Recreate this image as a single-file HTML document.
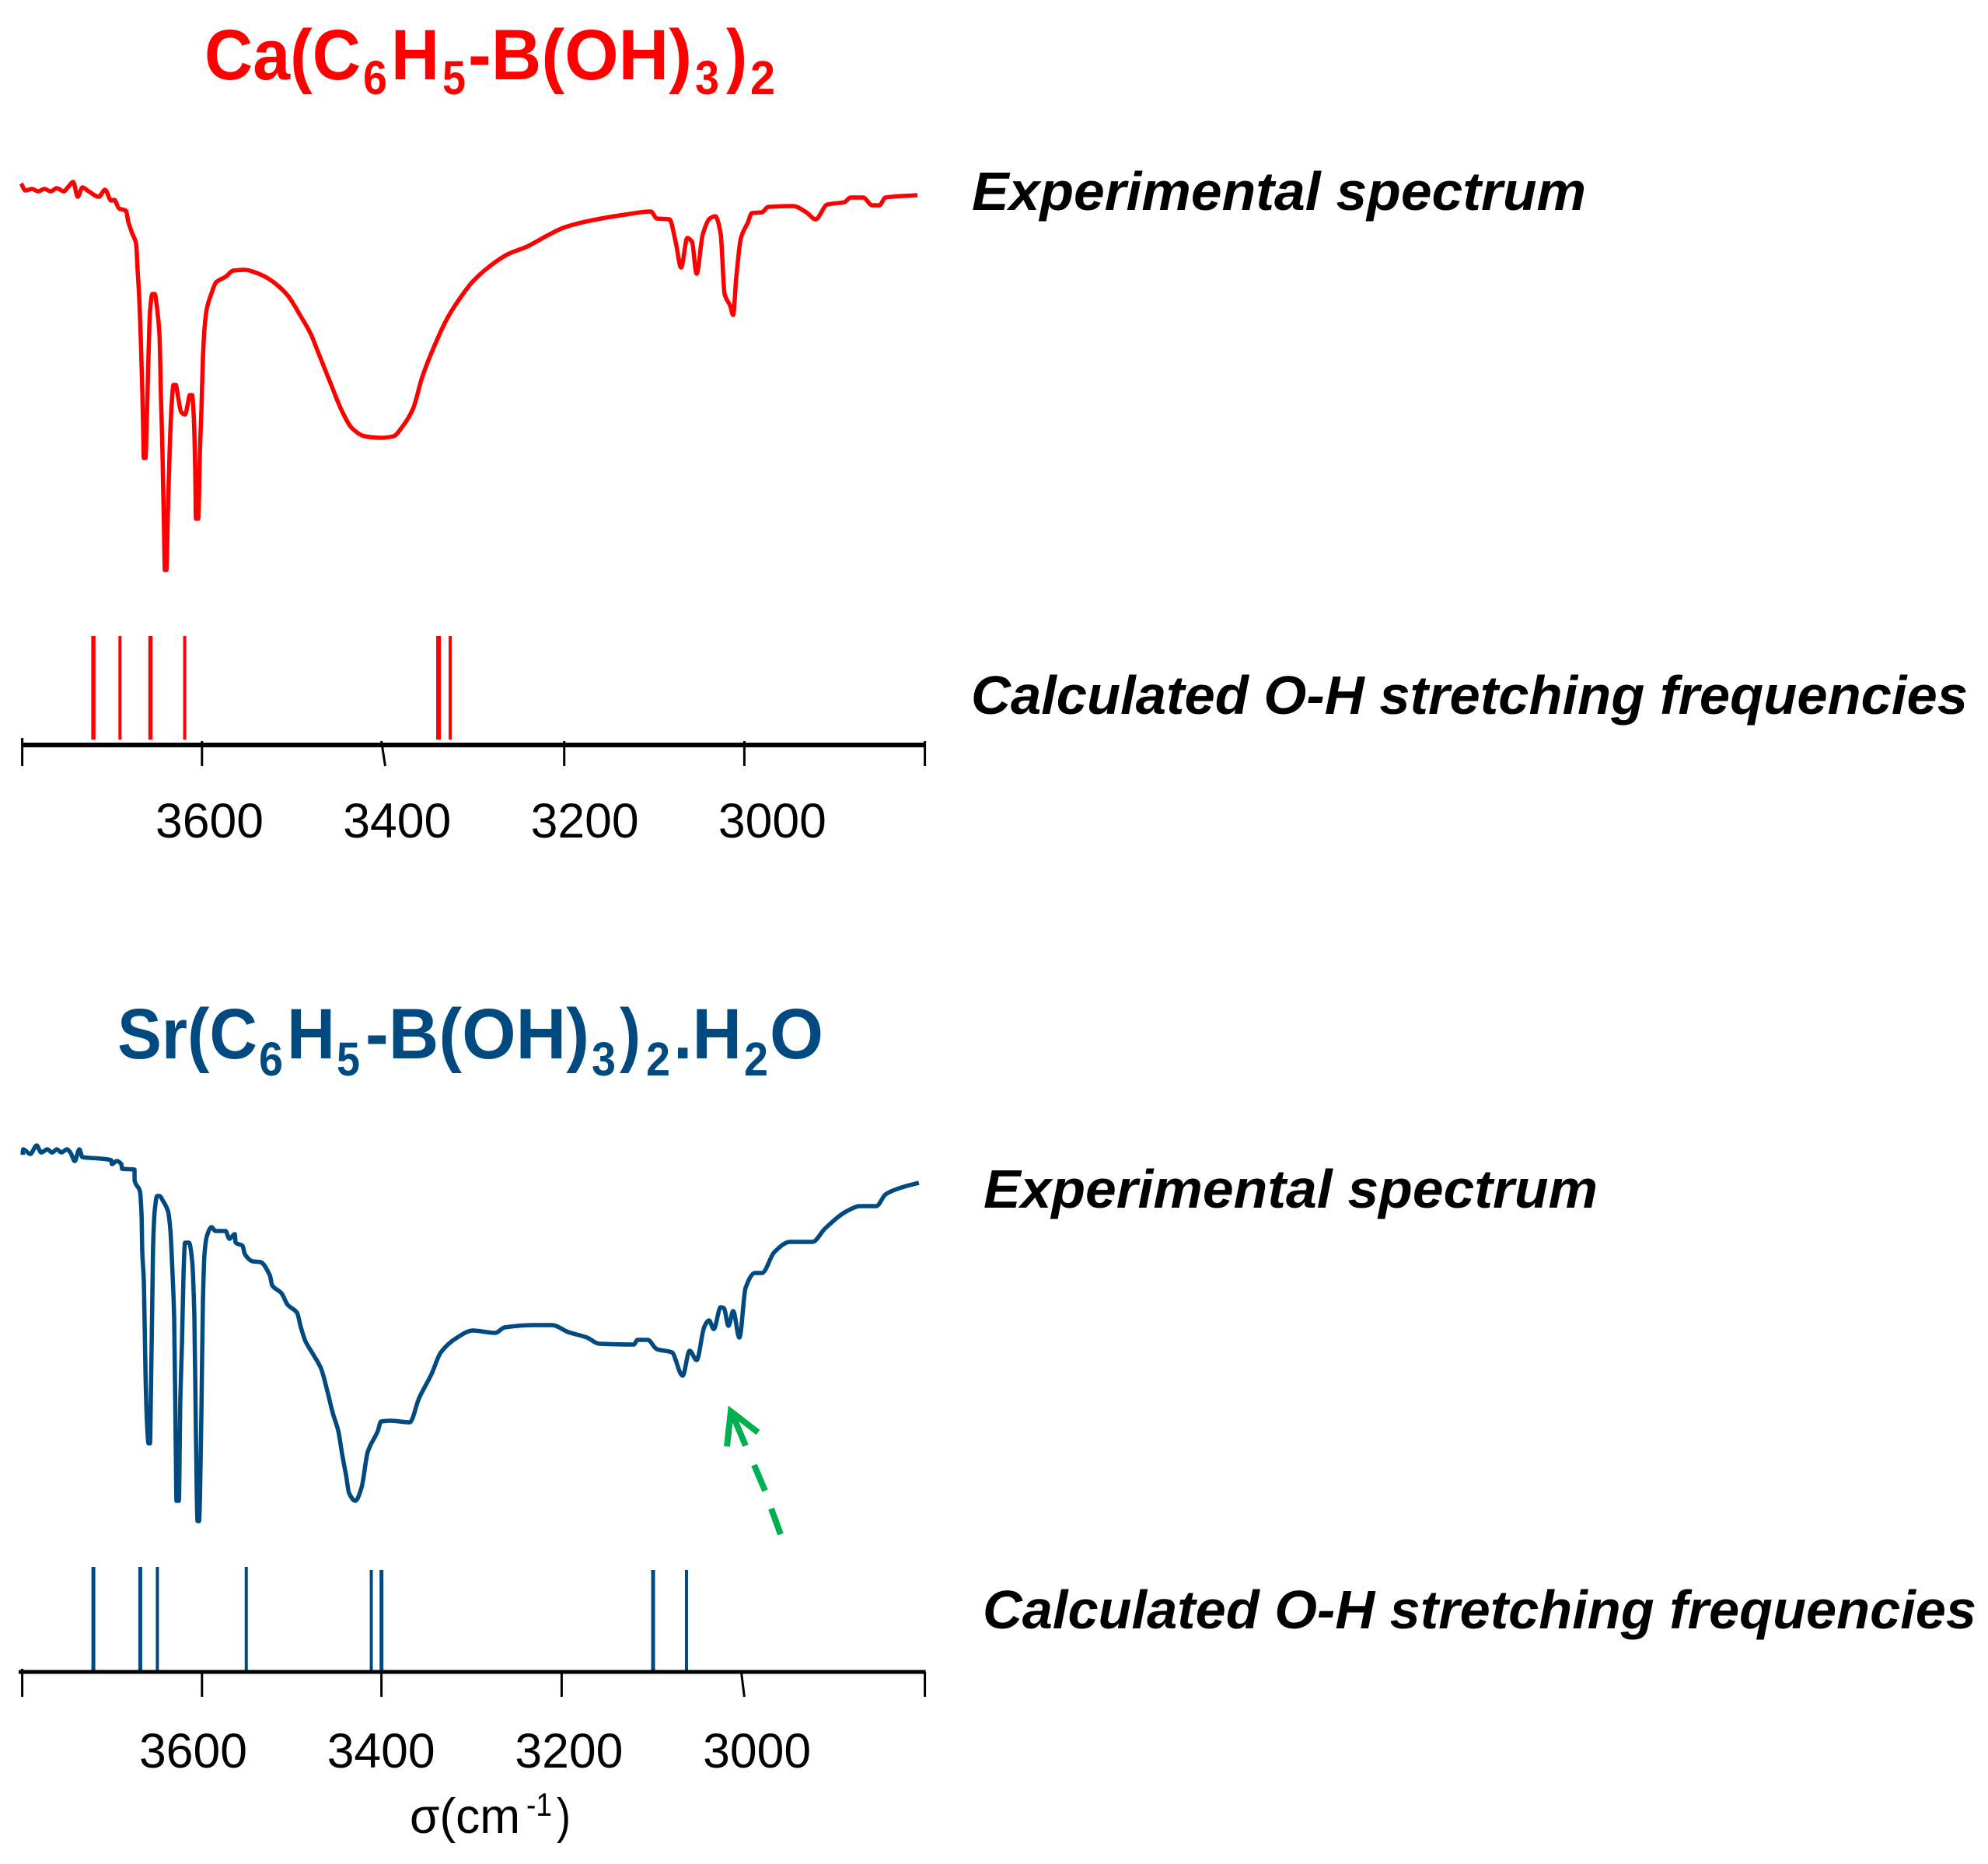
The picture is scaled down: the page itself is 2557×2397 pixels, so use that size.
<!DOCTYPE html>
<html>
<head>
<meta charset="utf-8">
<title>O-H stretching spectra</title>
<style>
html,body{margin:0;padding:0;background:#fff;}
svg{display:block;}
text{font-family:"Liberation Sans",sans-serif;}
.title{font-weight:bold;font-size:92px;}
.sub{font-size:61px;font-weight:bold;}
.note{font-weight:bold;font-style:italic;font-size:70px;fill:#000;}
.tick-label{font-size:63px;fill:#000;}
</style>
</head>
<body>
<svg id="figure" xmlns="http://www.w3.org/2000/svg" width="2557" height="2397" viewBox="0 0 2557 2397">
<rect x="0" y="0" width="2557" height="2397" fill="#fff"/>

<text class="title" fill="#ff0000" y="102"><tspan x="263" textLength="201" lengthAdjust="spacingAndGlyphs">Ca(C</tspan><tspan class="sub" x="467" y="121" textLength="31" lengthAdjust="spacingAndGlyphs">6</tspan><tspan x="503" y="102" textLength="62" lengthAdjust="spacingAndGlyphs">H</tspan><tspan class="sub" x="569" y="121" textLength="30" lengthAdjust="spacingAndGlyphs">5</tspan><tspan x="602" y="102" textLength="288" lengthAdjust="spacingAndGlyphs">-B(OH)</tspan><tspan class="sub" x="894" y="121" textLength="31" lengthAdjust="spacingAndGlyphs">3</tspan><tspan x="934" y="102" textLength="27" lengthAdjust="spacingAndGlyphs">)</tspan><tspan class="sub" x="965" y="121" textLength="32" lengthAdjust="spacingAndGlyphs">2</tspan></text>

<text class="title" fill="#004a80" y="1361"><tspan x="151" textLength="180" lengthAdjust="spacingAndGlyphs">Sr(C</tspan><tspan class="sub" x="333" y="1383" textLength="31" lengthAdjust="spacingAndGlyphs">6</tspan><tspan x="369" y="1361" textLength="62" lengthAdjust="spacingAndGlyphs">H</tspan><tspan class="sub" x="433" y="1383" textLength="30" lengthAdjust="spacingAndGlyphs">5</tspan><tspan x="470" y="1361" textLength="288" lengthAdjust="spacingAndGlyphs">-B(OH)</tspan><tspan class="sub" x="761" y="1383" textLength="31" lengthAdjust="spacingAndGlyphs">3</tspan><tspan x="797" y="1361" textLength="27" lengthAdjust="spacingAndGlyphs">)</tspan><tspan class="sub" x="831" y="1383" textLength="31" lengthAdjust="spacingAndGlyphs">2</tspan><tspan x="866" y="1361" textLength="88" lengthAdjust="spacingAndGlyphs">.H</tspan><tspan class="sub" x="957" y="1383" textLength="31" lengthAdjust="spacingAndGlyphs">2</tspan><tspan x="990" y="1361" textLength="69" lengthAdjust="spacingAndGlyphs">O</tspan></text>

<text class="note" x="1250" y="270" textLength="790" lengthAdjust="spacingAndGlyphs">Experimental spectrum</text>
<text class="note" x="1249" y="918" textLength="1282" lengthAdjust="spacingAndGlyphs">Calculated O-H stretching frequencies</text>
<text class="note" x="1265" y="1553" textLength="790" lengthAdjust="spacingAndGlyphs">Experimental spectrum</text>
<text class="note" x="1264" y="2094" textLength="1278" lengthAdjust="spacingAndGlyphs">Calculated O-H stretching frequencies</text>

<text class="tick-label" y="2357"><tspan x="527" textLength="142" lengthAdjust="spacingAndGlyphs">σ(cm</tspan><tspan x="677" y="2335" font-size="42" textLength="33" lengthAdjust="spacingAndGlyphs">-1</tspan><tspan x="716" y="2357" textLength="18" lengthAdjust="spacingAndGlyphs">)</tspan></text>

<g fill="none" stroke="#00b050" stroke-width="8">
<line x1="1004" y1="1973" x2="992" y2="1940"/>
<line x1="984" y1="1917" x2="970" y2="1884"/>
<line x1="959" y1="1859" x2="943" y2="1821"/>
<polyline points="935,1860 940,1815 975,1842"/>
</g>
</svg>

<script>
// Wavenumber axis values
const tickValues = [3800, 3600, 3400, 3200, 3000, 2800];
const tickLabels = ["3600", "3400", "3200", "3000"];

// Ca compound experimental spectrum
const caWavenumber = [3801.3,3796.2,3789.3,3782.4,3775.5,3768.6,3761.7,3754,3748.8,3743.6,3738.5,3733.3,3726.4,3715.2,3708.3,3701.4,3698,3692.8,3685.1,3682.5,3678.2,3673.9,3672.2,3670.4,3668.7,3667,3666.1,3665.3,3663.5,3661.8,3660.1,3658.4,3655.8,3653.2,3650.6,3648,3646.3,3644.6,3642.9,3642,3640.3,3638.6,3636.8,3634.3,3632.5,3629.9,3627.4,3623.9,3619.6,3616.2,3614.4,3611.9,3610.1,3608.4,3607.6,3605,3603.2,3601.5,3599.8,3598.1,3595.5,3590.3,3585.2,3574.8,3566.2,3553.3,3540.4,3529.2,3517.1,3505.9,3491.3,3480.1,3473.2,3459.4,3444.8,3434.4,3420.7,3402.6,3388.8,3378.4,3367.2,3356.9,3343.1,3328.5,3314.7,3300.9,3282.8,3262.2,3240.6,3220,3198.4,3167.4,3132.1,3103.7,3096.8,3083,3076.1,3070.1,3063.2,3058,3052.9,3046,3038.2,3032.2,3026.2,3021.9,3015.8,3012.4,3009,3003.8,2996,2991.7,2980.5,2973.6,2946.1,2931.4,2921.1,2908.2,2889.2,2882.3,2868.6,2858.2,2850.5,2843.6,2808.3];
const caIntensity = [76.4,75.5,75.7,75.4,75.7,75.4,75.8,75.4,76,76.6,74.7,75.9,75.4,74.7,75.6,74.2,74.3,73.2,72.9,71.5,70,68.7,65.3,61.7,56.7,50,45,41.1,41.1,47,54.3,60,62.2,62.2,60.3,57,49,41.7,31.7,26.7,26.7,34.3,41.7,48.3,50.5,50.5,49,47,46.7,48.3,49.2,49.2,46.7,40,33.3,33.3,41.7,47.3,54,57.7,60.3,62.3,63.7,64.4,65.2,65.3,64.9,64.3,63.3,62,59.3,57,55,51,46.9,44.9,43.9,43.7,43.9,45.2,47.4,51.5,55.6,59.2,61.7,63.8,65.7,67.3,68.3,69.6,70.8,71.7,72.4,72.8,71.9,71.8,68.9,65.6,69.4,68.9,64.8,69.9,71.9,72.2,69.9,62.2,60.7,59.5,64.3,69.4,71.4,72.6,72.7,73.4,73.5,72.7,71.8,73.7,74,74.6,74.6,73.6,73.6,74.6,74.9];
const caCalculated = [3721.2,3691.7,3657.9,3620,3338.8,3325.9];

// Sr compound experimental spectrum
const srWavenumber = [3799.6,3799,3791,3784.1,3779,3772.1,3766.9,3761.7,3756.6,3750.5,3746.2,3741.9,3736.7,3733.3,3712.6,3701.4,3700.6,3695.4,3690.2,3689.4,3675.6,3675.5,3669.6,3667.8,3667,3665.3,3663.5,3661.8,3660.1,3658.4,3657.5,3655.8,3654.9,3653.2,3650.6,3648,3643.7,3638.6,3636,3633.4,3631.7,3629.9,3629.1,3626.5,3624.8,3623.1,3621.3,3619.6,3615.3,3611.9,3609.3,3607.6,3605.8,3604.1,3601.5,3599.8,3598.1,3595.5,3590.3,3586,3574.8,3570.5,3564.5,3563.6,3555.9,3553.3,3544.7,3536.1,3525.7,3523.1,3512.8,3505.9,3495.6,3491.3,3486.1,3477.5,3468.9,3461.1,3456,3449.9,3445.6,3441.3,3437.9,3431,3424.1,3417.2,3406,3402.6,3392.2,3370.7,3360.4,3346.6,3336.2,3318.2,3300.9,3276,3265.6,3233.7,3213.1,3195,3174.3,3160.6,3122.6,3118.3,3107.1,3096.8,3080.4,3068.4,3060.6,3052.9,3044.3,3039.1,3033.9,3026.2,3022.7,3017.6,3012.4,3005.5,2998.6,2988.3,2980.5,2966.7,2949.5,2924.5,2910.8,2885.8,2872,2853.9,2843.6,2833.2,2822.9,2806.6];
const srIntensity = [51.5,52.2,51.6,52.7,51.8,52.2,51.8,52.2,51.8,52.2,51.7,50.7,52.2,51.2,51,50.8,50.3,50.7,50.3,49.7,49.6,48.2,46.8,43.7,39,35.3,23.7,17,14.4,14.4,20.3,33.7,40.3,44.3,46.2,46.2,45.5,44.3,42,36,30.7,13.7,7,7,20.3,27,36.3,40.2,40.2,38,30.7,15.7,4.4,4.4,18.7,32.7,38.7,41,42.2,41.7,41.7,40.7,41.3,40.2,39.8,38.7,37.8,37.7,36,34.7,33.7,32.2,31.2,29.3,27.5,25.8,24,20.7,18.3,16,13,10.3,8,7,8.7,13.3,16,17.2,17.3,17.1,20.2,23.3,26.1,28,28.9,28.6,29.3,29.6,29.6,28.7,28,27.2,27.1,27.7,27.7,26.5,26.1,23.1,26.3,25.1,29.4,30.2,29.1,31.9,31.8,29.5,31.4,28,34.4,36.3,36.3,39,40.3,40.3,42,44.3,44.9,44.9,46.4,47,47.4,47.9];
const srCalculated = [3721.2,3669.2,3650.3,3551.8,3413.3,3402,3101.1,3064.1];
const srCalculatedHeight = [1,1,1,1,0.97,0.97,0.97,0.97];

const SVG_NS = "http://www.w3.org/2000/svg";
const svg = document.getElementById("figure");

function xScale(sigma) { return 28.6 + (3800 - sigma) * 1.161; }

// Monotone cubic curve through the scaled points (no overshoot at the peaks)
function monotonePath(xs, ys) {
  const n = xs.length;
  const slopes = [];
  for (let i = 0; i < n - 1; i++) {
    slopes.push((ys[i + 1] - ys[i]) / Math.max(xs[i + 1] - xs[i], 0.01));
  }
  const tangents = [slopes[0]];
  for (let i = 1; i < n - 1; i++) {
    const a = slopes[i - 1], b = slopes[i];
    tangents.push(a * b <= 0 ? 0 : 2 * a * b / (a + b));
  }
  tangents.push(slopes[n - 2]);
  let d = "M" + xs[0].toFixed(1) + " " + ys[0].toFixed(1);
  for (let i = 0; i < n - 1; i++) {
    const h = (xs[i + 1] - xs[i]) / 3;
    d += " C" + (xs[i] + h).toFixed(1) + " " + (ys[i] + tangents[i] * h).toFixed(1) +
         " " + (xs[i + 1] - h).toFixed(1) + " " + (ys[i + 1] - tangents[i + 1] * h).toFixed(1) +
         " " + xs[i + 1].toFixed(1) + " " + ys[i + 1].toFixed(1);
  }
  return d;
}

function drawSpectrum(wavenumbers, intensities, base, color, width, name) {
  const xs = wavenumbers.map(xScale);
  const ys = intensities.map(function (v) { return base - v * 10; });
  const path = document.createElementNS(SVG_NS, "path");
  path.setAttribute("d", monotonePath(xs, ys));
  path.setAttribute("fill", "none");
  path.setAttribute("stroke", color);
  path.setAttribute("stroke-width", width);
  path.setAttribute("stroke-linejoin", "round");
  
  
  svg.appendChild(path);
}

function drawCalculated(values, heights, top, bottom, color, widths, name) {
  values.forEach(function (v, i) {
    const line = document.createElementNS(SVG_NS, "line");
    const x = xScale(v);
    line.setAttribute("x1", x);
    line.setAttribute("x2", x);
    line.setAttribute("y1", bottom - (bottom - top) * heights[i]);
    line.setAttribute("y2", bottom);
    line.setAttribute("stroke", color);
    line.setAttribute("stroke-width", widths[i % widths.length]);
    
    
    svg.appendChild(line);
  });
}

function drawAxis(axisY, axisW, tickTop, tickBottom, x0, slantIndex, slant, shift, name) {
  const axis = document.createElementNS(SVG_NS, "line");
  axis.setAttribute("x1", x0);
  axis.setAttribute("x2", xScale(tickValues[tickValues.length - 1]) + 1);
  axis.setAttribute("y1", axisY);
  axis.setAttribute("y2", axisY);
  axis.setAttribute("stroke", "#000");
  axis.setAttribute("stroke-width", axisW);
  
  
  svg.appendChild(axis);
  tickValues.forEach(function (v, i) {
    const tick = document.createElementNS(SVG_NS, "line");
    const x = xScale(v) + shift[i];
    const s = i === slantIndex ? slant : 0;
    tick.setAttribute("x1", x - s);
    tick.setAttribute("x2", x + s);
    tick.setAttribute("y1", i === 0 ? tickTop - 4 : tickTop);
    tick.setAttribute("y2", tickBottom);
    tick.setAttribute("stroke", "#000");
    tick.setAttribute("stroke-width", 3);
    
    
    svg.appendChild(tick);
  });
}

function drawTickLabels(start, step, baseline, name) {
  tickLabels.forEach(function (label, i) {
    const t = document.createElementNS(SVG_NS, "text");
    t.setAttribute("class", "tick-label");
    t.setAttribute("x", start + step * i);
    t.setAttribute("y", baseline);
    t.setAttribute("textLength", 139);
    t.setAttribute("lengthAdjust", "spacingAndGlyphs");
    
    
    t.textContent = label;
    svg.appendChild(t);
  });
}

drawSpectrum(caWavenumber, caIntensity, 1000, "#ff0000", 5.5, "ca-experimental-spectrum");
drawCalculated(caCalculated, caCalculated.map(function () { return 1; }), 818, 951, "#ff0000", [5.5, 4, 5.5, 4, 6, 4], "ca-calculated-frequency");
drawAxis(958, 6, 953, 985, 28, 2, 2.5, [0, -1, 0, 0.5, 0, 0], "top");
drawTickLabels(200, 241.3, 1077, "top");

drawSpectrum(srWavenumber, srIntensity, 2000, "#004a80", 5.5, "sr-experimental-spectrum");
drawCalculated(srCalculated, srCalculatedHeight, 2015, 2150, "#004a80", [5, 5, 4, 4, 4, 5, 5, 4], "sr-calculated-frequency");
drawAxis(2150, 5, 2150, 2182, 24, 4, 2, [0, -1, -2.4, -2.8, -2, 0], "bottom");
drawTickLabels(179, 241.7, 2273, "bottom");
</script>
</body>
</html>
